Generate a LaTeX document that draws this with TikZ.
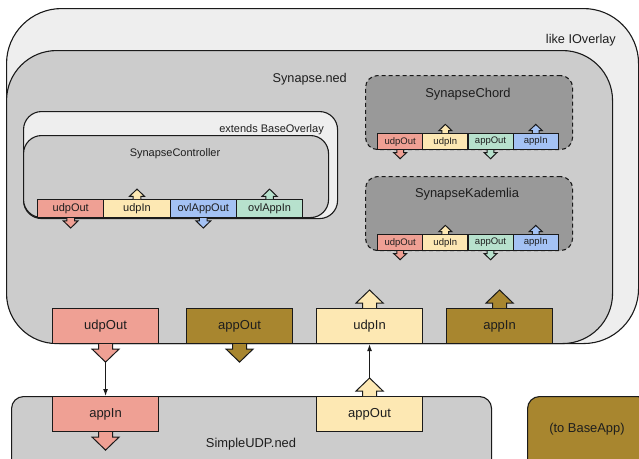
\documentclass[tikz,border=0pt]{standalone}
\usepackage{fontspec}
\setmainfont{Liberation Sans}
\usetikzlibrary{arrows.meta,calc}
\definecolor{cOuter}{HTML}{EEEEEE}
\definecolor{cMid}{HTML}{CCCCCC}
\definecolor{cDark}{HTML}{999999}
\definecolor{cRed}{HTML}{EFA094}
\definecolor{cYel}{HTML}{FDE8B3}
\definecolor{cBlu}{HTML}{A4C2F4}
\definecolor{cGrn}{HTML}{B7E1CD}
\definecolor{cOli}{HTML}{A8862F}
\definecolor{cLine}{HTML}{1A1A1A}
\definecolor{cTxt}{HTML}{1E1E1E}
\newcommand\blockarrow[4]{%
  \begin{scope}[shift={(#1)},yscale=#2,scale=#3]
    \draw[fill=#4,draw=cLine,line width=1pt,line join=miter]
      (-7,0) -- (-7,5) -- (-13.5,5) -- (0,18) -- (13.5,5) -- (7,5) -- (7,0);
  \end{scope}}
\tikzset{
  base/.style={draw=cLine, line width=1.1pt, inner sep=0pt, text=cTxt},
  container/.style={base, anchor=north west, rounded corners=#1},
  bigport/.style={base, anchor=north west, minimum width=106pt, minimum height=35pt,
    font=\fontsize{13}{15}\selectfont},
  ctlport/.style={base, anchor=north west, minimum width=66.3pt, minimum height=18pt,
    font=\fontsize{11}{13}\selectfont},
  smport/.style={base, anchor=north west, minimum width=45.2pt, minimum height=16pt,
    font=\fontsize{9.5}{11}\selectfont},
  lbl/.style={inner sep=0pt, text=cTxt},
}
\begin{document}
\begin{tikzpicture}[x=1pt,y=-1pt]
\useasboundingbox (0,0) rectangle (639,458);
\clip (0,0) rectangle (639,458);
% containers
\node[container=55, fill=cOuter, minimum width=632pt, minimum height=335pt] (ioverlay) at (6,8) {};
\node[container=50, fill=cMid, minimum width=606pt, minimum height=293pt] (synapse) at (6,50) {};
\node[container=18, fill=cOuter, minimum width=314pt, minimum height=107pt] (extends) at (23,111) {};
\node[container=18, fill=cMid, minimum width=305pt, minimum height=82pt] (ctrl) at (23,135) {};
\node[container=12, fill=cDark, dashed, dash pattern=on 4pt off 3pt, minimum width=207pt, minimum height=74pt] (chord) at (365,75) {};
\node[container=12, fill=cDark, dashed, dash pattern=on 4pt off 3pt, minimum width=207pt, minimum height=74pt] (kad) at (365,176) {};
% labels
\node[lbl, anchor=base east, font=\fontsize{12.7}{15}\selectfont] (l1) at (616,43) {like IOverlay};
\node[lbl, anchor=base east, font=\fontsize{12.7}{15}\selectfont] (l2) at (347,82.5) {Synapse.ned};
\node[lbl, anchor=base east, font=\fontsize{11}{13}\selectfont] (l3) at (324,132) {extends BaseOverlay};
\node[lbl, anchor=base, font=\fontsize{11}{13}\selectfont] (l4) at (175,156) {SynapseController};
\node[lbl, anchor=base, font=\fontsize{12.9}{15}\selectfont] (l5) at (468,97.5) {SynapseChord};
\node[lbl, anchor=base, font=\fontsize{12.9}{15}\selectfont] (l6) at (467,197.5) {SynapseKademlia};
% controller ports
\node[ctlport, fill=cRed] (c1) at (37,199) {udpOut};
\node[ctlport, fill=cYel] (c2) at (103.3,199) {udpIn};
\node[ctlport, fill=cBlu] (c3) at (169.6,199) {ovlAppOut};
\node[ctlport, fill=cGrn] (c4) at (235.9,199) {ovlAppIn};
\blockarrow{c1.south}{1}{0.55}{cRed}
\blockarrow{c2.north}{-1}{0.55}{cYel}
\blockarrow{c3.south}{1}{0.55}{cBlu}
\blockarrow{c4.north}{-1}{0.55}{cGrn}
% chord ports
\node[smport, fill=cRed] (h1) at (377,133) {udpOut};
\node[smport, fill=cYel] (h2) at (422.2,133) {udpIn};
\node[smport, fill=cGrn] (h3) at (467.4,133) {appOut};
\node[smport, fill=cBlu] (h4) at (512.6,133) {appIn};
\blockarrow{h1.south}{1}{0.48}{cRed}
\blockarrow{h2.north}{-1}{0.48}{cYel}
\blockarrow{h3.south}{1}{0.48}{cGrn}
\blockarrow{h4.north}{-1}{0.48}{cBlu}
% kademlia ports
\node[smport, fill=cRed] (k1) at (377,234) {udpOut};
\node[smport, fill=cYel] (k2) at (422.2,234) {udpIn};
\node[smport, fill=cGrn] (k3) at (467.4,234) {appOut};
\node[smport, fill=cBlu] (k4) at (512.6,234) {appIn};
\blockarrow{k1.south}{1}{0.48}{cRed}
\blockarrow{k2.north}{-1}{0.48}{cYel}
\blockarrow{k3.south}{1}{0.48}{cGrn}
\blockarrow{k4.north}{-1}{0.48}{cBlu}
% Synapse bottom ports
\node[bigport, fill=cRed] (udpOut) at (52,308) {udpOut};
\node[bigport, fill=cOli] (appOut) at (186,308) {appOut};
\node[bigport, fill=cYel] (udpIn) at (316,308) {udpIn};
\node[bigport, fill=cOli] (appIn) at (446,308) {appIn};
\blockarrow{udpOut.south}{1}{1}{cRed}
\blockarrow{appOut.south}{1}{1}{cOli}
\blockarrow{udpIn.north}{-1}{1}{cYel}
\blockarrow{appIn.north}{-1}{1}{cOli}
% SimpleUDP
\node[container=12, fill=cMid, minimum width=480pt, minimum height=90pt] (simple) at (11,396) {};
\node[lbl, anchor=base, font=\fontsize{12.9}{15}\selectfont] (l7) at (251,447.5) {SimpleUDP.ned};
\node[bigport, fill=cRed] (sIn) at (52,396) {appIn};
\node[bigport, fill=cYel] (sOut) at (316,396) {appOut};
\blockarrow{sIn.south}{1}{1}{cRed}
\blockarrow{sOut.north}{-1}{1}{cYel}
% BaseApp
\node[container=12, fill=cOli, minimum width=122pt, minimum height=90pt] (baseapp) at (527,396) {};
\node[lbl, anchor=base, font=\fontsize{12.9}{15}\selectfont] (l8) at (587,432.5) {(to BaseApp)};
% connectors
\coordinate (t1) at ($(udpOut.south)+(0,18)$);
\coordinate (t2) at ($(sOut.north)+(0,-18)$);
\draw[line width=1.1pt, draw=cLine, -{Latex[length=7pt,width=5pt]}] (t1) -- (sIn.north);
\draw[line width=1.1pt, draw=cLine, -{Latex[length=7pt,width=5pt]}] (t2) -- (udpIn.south);
\end{tikzpicture}
\end{document}
